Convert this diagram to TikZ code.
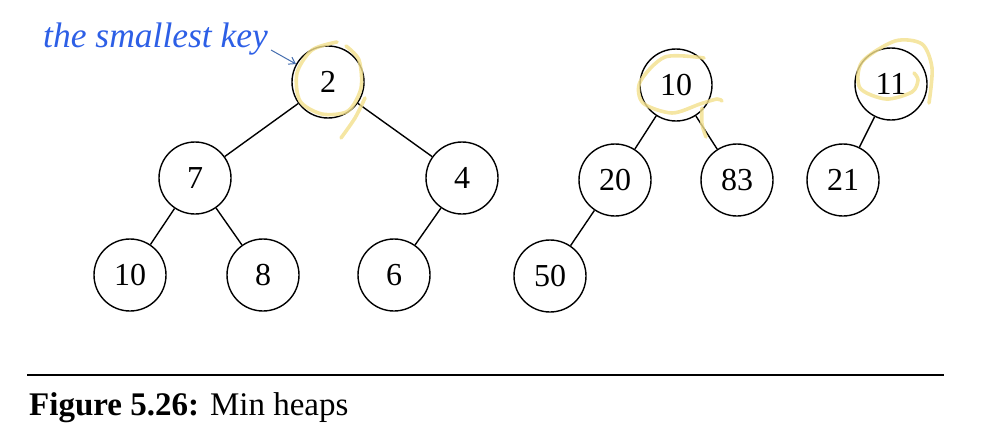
\documentclass[tikz,border=0pt]{standalone}
\usepackage{fontspec}
\setmainfont{Liberation Serif}
\usetikzlibrary{arrows.meta}
\definecolor{hlyellow}{RGB}{243,224,140}
\definecolor{annblue}{RGB}{45,95,230}
\definecolor{arrblue}{RGB}{70,110,175}
\tikzset{
  keynode/.style={circle, draw, line width=1.4pt, minimum size=72pt, inner sep=0pt,
    font=\fontsize{32}{38}\selectfont},
  edge/.style={line width=1.4pt},
  hl/.style={draw=hlyellow, line width=3.6pt, opacity=0.8, line cap=round, line join=round},
}
\begin{document}
\begin{tikzpicture}[x=1pt,y=-1pt]
\useasboundingbox (0,0) rectangle (992,444);
% first heap
\node[keynode] (a2) at (328,82) {2};
\node[keynode] (a7) at (195,178) {7};
\node[keynode] (a4) at (462,178) {4};
\node[keynode] (a10) at (130,275) {10};
\node[keynode] (a8) at (263,275) {8};
\node[keynode] (a6) at (394,275) {6};
\draw[edge] (a2) -- (a7);
\draw[edge] (a2) -- (a4);
\draw[edge] (a7) -- (a10);
\draw[edge] (a7) -- (a8);
\draw[edge] (a4) -- (a6);
% second heap
\node[keynode] (b10) at (676,85) {10};
\node[keynode] (b20) at (615,180) {20};
\node[keynode] (b83) at (737,180) {83};
\node[keynode] (b50) at (550,276) {50};
\draw[edge] (b10) -- (b20);
\draw[edge] (b10) -- (b83);
\draw[edge] (b20) -- (b50);
% third heap
\node[keynode] (c11) at (891,84) {11};
\node[keynode] (c21) at (843,180) {21};
\draw[edge] (c11) -- (c21);
% annotation
\node[anchor=base west, text=annblue, font=\fontsize{35.5}{42}\selectfont\itshape, inner sep=0pt] (lbl) at (43,48) {the smallest key};
\coordinate (arrstart) at (271,50);
\draw[arrblue, line width=1pt, -{Straight Barb[length=6pt,width=8pt]}] (arrstart) -- (a2);
% yellow highlights
\draw[hl] plot[smooth] coordinates {(337,42) (312,50) (297,73) (300,101) (322,114) (348,111) (361,88) (359,60) (346,46)};
\draw[hl] plot[smooth] coordinates {(365,98) (355,118) (341,138)};
\draw[hl] plot[smooth] coordinates {(704,58) (665,57) (640,82) (643,103) (672,113) (700,104) (717,99) (722,101)};
\draw[hl] plot[smooth] coordinates {(702,108) (702,124) (706,137)};
\draw[hl] plot[smooth] coordinates {(914,73) (918,80) (912,92) (886,99) (860,88) (862,62) (895,41) (922,44) (932,68) (929,103)};
% rule and caption
\coordinate (ruleL) at (27,375);
\coordinate (ruleR) at (944,375);
\draw[line width=2.5pt] (ruleL) -- (ruleR);
\node[anchor=base west, inner sep=0pt, font=\fontsize{33}{38}\selectfont] (cap) at (29,415) {\textbf{Figure 5.26:} Min heaps};
\end{tikzpicture}
\end{document}
